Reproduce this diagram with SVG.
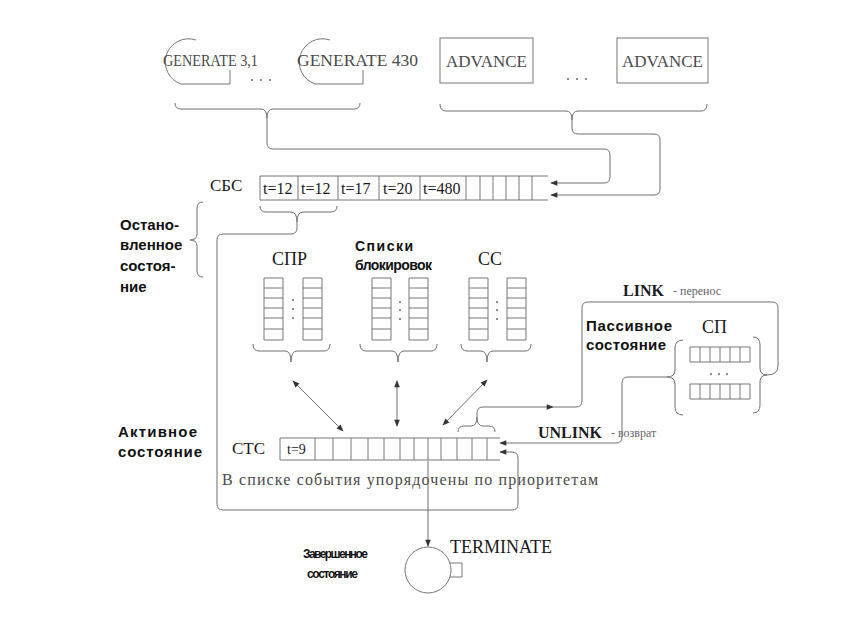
<svg xmlns="http://www.w3.org/2000/svg" width="849" height="619" viewBox="0 0 849 619">
<defs>
<style>
.ln{fill:none;stroke:#6e6e6e;stroke-width:1}
.bx{fill:none;stroke:#777;stroke-width:1}
.srf{font-family:"Liberation Serif","Times New Roman",serif;fill:#4a4a4a}
.dk{fill:#1a1a1a}
.bs{font-family:"Liberation Sans",Arial,sans-serif;font-weight:bold;fill:#111}
.sm{font-family:"Liberation Serif","Times New Roman",serif;font-size:12px;fill:#666}
.dot{fill:#666}
</style>
<marker id="ah" viewBox="0 0 10 10" refX="9" refY="5" markerWidth="9" markerHeight="7" markerUnits="userSpaceOnUse" orient="auto-start-reverse">
<path d="M0,1 L10,5 L0,9 Z" fill="#333"/>
</marker>
</defs>
<rect width="849" height="619" fill="#fff"/>

<g id="generate1">
<path class="bx" d="M196 40 A23 23 0 1 0 181 84 L230 84 L230 70"/>
<text class="srf" x="163" y="66" font-size="17" textLength="95" lengthAdjust="spacingAndGlyphs">GENERATE 3,1</text>
</g>
<g id="generate2">
<path class="bx" d="M330 40 A23 23 0 1 0 315 84 L363 84 L363 70"/>
<text class="srf" x="297" y="66" font-size="17" textLength="121" lengthAdjust="spacingAndGlyphs">GENERATE 430</text>
</g>
<g id="gen-dots"><circle class="dot" cx="252" cy="80" r="1"/><circle class="dot" cx="261" cy="80" r="1"/><circle class="dot" cx="270" cy="80" r="1"/></g>
<g id="advance1">
<rect class="bx" x="440" y="38" width="93" height="45"/>
<text class="srf" x="486.5" y="67" font-size="17" text-anchor="middle">ADVANCE</text>
</g>
<g id="advance2">
<rect class="bx" x="617" y="38" width="91" height="45"/>
<text class="srf" x="662.5" y="67" font-size="17" text-anchor="middle">ADVANCE</text>
</g>
<g id="adv-dots"><circle class="dot" cx="568" cy="79" r="1"/><circle class="dot" cx="577" cy="79" r="1"/><circle class="dot" cx="586" cy="79" r="1"/></g>

<g id="braces">
<path class="ln" d="M175 103 Q175 109 181 109 L261 109 Q267 109 267 118 Q267 109 273 109 L354 109 Q360 109 360 103"/>
<path class="ln" d="M440 104 Q440 111 446 111 L566 111 Q572 111 572 120 Q572 111 578 111 L701 111 Q707 111 707 104"/>
<path class="ln" d="M260 206 Q260 212 266 212 L291 212 Q297 212 297 222 Q297 212 303 212 L331 212 Q337 212 337 206"/>
<path class="ln" d="M203 202 Q197 202 197 208 L197 234 Q197 240 190 240 Q197 240 197 246 L197 271 Q197 277 203 277"/>
<path class="ln" d="M253 344 Q253 351 259 351 L285 351 Q291 351 291 362 Q291 351 297 351 L324 351 Q330 351 330 344"/>
<path class="ln" d="M360 344 Q360 351 366 351 L392 351 Q398 351 398 362 Q398 351 404 351 L431 351 Q437 351 437 344"/>
<path class="ln" d="M461 344 Q461 351 467 351 L481 351 Q487 351 487 362 Q487 351 493 351 L525 351 Q531 351 531 344"/>
<path class="ln" d="M458 432 Q458 426 464 426 L471 426 Q477 426 477 417 Q477 426 483 426 L489 426 Q495 426 495 432"/>
<path class="ln" d="M683 340 Q675 340 675 348 L675 370 Q675 377 667 377 Q675 377 675 384 L675 407 Q675 415 683 415"/>
<path class="ln" d="M753 337 Q760 337 760 345 L760 368 Q760 375 767 375 Q760 375 760 382 L760 405 Q760 413 753 413"/>
</g>

<g id="sbs">
<text class="srf dk" x="210" y="191" font-size="17">СБС</text>
<path class="bx" d="M548 176 L260 176 L260 200 L548 200 M298 176 V200 M338 176 V200 M379 176 V200 M420 176 V200 M466 176 V200 M480 176 V200 M493 176 V200 M506 176 V200 M519 176 V200 M532 176 V200"/>
<g class="srf dk" font-size="16">
<text x="263" y="194">t=12</text><text x="301" y="194">t=12</text><text x="341" y="194">t=17</text><text x="383" y="194">t=20</text><text x="423" y="194">t=480</text>
</g>
</g>

<g id="stopped-label" class="bs" font-size="15">
<text x="120" y="230">Остано-</text><text x="120" y="250">вленное</text><text x="120" y="271">состоя-</text><text x="120" y="292">ние</text>
</g>

<g id="spr">
<text class="srf dk" x="272" y="265" font-size="18">СПР</text>
<path class="bx" d="M264 278 h19 v62 h-19 Z M264 288 h19 M264 298 h19 M264 308 h19 M264 318 h19 M264 329 h19 M303 278 h19 v62 h-19 Z M303 288 h19 M303 298 h19 M303 308 h19 M303 318 h19 M303 329 h19"/>
<circle class="dot" cx="293" cy="300" r="1"/><circle class="dot" cx="293" cy="309" r="1"/><circle class="dot" cx="293" cy="318" r="1"/>
</g>
<g id="blocks">
<text class="bs" x="355" y="251" font-size="14" textLength="58">Списки</text>
<text class="bs" x="355" y="270" font-size="14" textLength="77">блокировок</text>
<path class="bx" d="M372 278 h19 v62 h-19 Z M372 288 h19 M372 298 h19 M372 308 h19 M372 318 h19 M372 329 h19 M409 278 h19 v62 h-19 Z M409 288 h19 M409 298 h19 M409 308 h19 M409 318 h19 M409 329 h19"/>
<circle class="dot" cx="400" cy="302" r="1"/><circle class="dot" cx="400" cy="310" r="1"/><circle class="dot" cx="400" cy="319" r="1"/>
</g>
<g id="cc">
<text class="srf dk" x="478" y="265" font-size="18">СС</text>
<path class="bx" d="M469 278 h19 v62 h-19 Z M469 288 h19 M469 298 h19 M469 308 h19 M469 318 h19 M469 329 h19 M507 278 h19 v62 h-19 Z M507 288 h19 M507 298 h19 M507 308 h19 M507 318 h19 M507 329 h19"/>
<circle class="dot" cx="497" cy="302" r="1"/><circle class="dot" cx="497" cy="310" r="1"/><circle class="dot" cx="497" cy="319" r="1"/>
</g>

<g id="sp">
<text class="bs" x="586" y="331" font-size="15" textLength="86">Пассивное</text>
<text class="bs" x="586" y="350" font-size="15" textLength="80">состояние</text>
<text class="srf dk" x="702" y="333" font-size="18">СП</text>
<path class="bx" d="M690 347 h60 v15 h-60 Z M700 347 v15 M710 347 v15 M720 347 v15 M730 347 v15 M740 347 v15 M690 384 h60 v15 h-60 Z M700 384 v15 M710 384 v15 M720 384 v15 M730 384 v15 M740 384 v15"/>
<circle class="dot" cx="711" cy="374" r="1"/><circle class="dot" cx="719" cy="374" r="1"/><circle class="dot" cx="727" cy="374" r="1"/>
</g>

<g id="link-label">
<text class="srf dk" x="623" y="296" font-size="16" font-weight="bold">LINK</text>
<text class="sm" x="673" y="295">- перенос</text>
</g>
<g id="unlink-label">
<text class="srf dk" x="538" y="438" font-size="16" font-weight="bold">UNLINK</text>
<text class="sm" x="611" y="437">- возврат</text>
</g>

<g id="active-label" class="bs" font-size="15">
<text x="118" y="437" textLength="79">Активное</text><text x="118" y="457" textLength="84">состояние</text>
</g>

<g id="stc">
<text class="srf dk" x="232" y="454" font-size="17">СТС</text>
<path class="bx" d="M500 438 L280 438 L280 460 L500 460 M315 438 V460 M333 438 V460 M351 438 V460 M368 438 V460 M384 438 V460 M400 438 V460 M414 438 V460 M428 438 V460 M441 438 V460 M457 438 V460 M472 438 V460 M487 438 V460"/>
<text class="srf dk" x="287" y="454" font-size="14">t=9</text>
<text class="srf" x="222" y="485" font-size="16" textLength="376">В списке события упорядочены по приоритетам</text>
</g>

<g id="terminate">
<circle class="bx" cx="428" cy="570" r="23"/>
<path class="bx" d="M450 563 H462 V577 H450"/>
<text class="srf dk" x="450" y="553" font-size="18">TERMINATE</text>
</g>
<g id="finished-label" class="bs" font-size="12">
<text x="303" y="558" textLength="65">Завершенное</text><text x="307" y="578" textLength="51">состояние</text>
</g>

<g id="connectors">
<path class="ln" marker-end="url(#ah)" d="M267 118 L267 143 Q267 149 273 149 L604 149 Q610 149 610 155 L610 177 Q610 183 604 183 L551 183"/>
<path class="ln" marker-end="url(#ah)" d="M572 120 L572 128 Q572 134 578 134 L654 134 Q660 134 660 140 L660 189 Q660 195 654 195 L551 195"/>
<path class="ln" marker-end="url(#ah)" d="M297 222 L297 228 Q297 234 291 234 L223 234 Q217 234 217 240 L217 504 Q217 510 223 510 L512 510 Q518 510 518 504 L518 458 Q518 452 512 452 L500 452"/>
<path class="ln" marker-end="url(#ah)" d="M667 377 L628 377 Q622 377 622 383 L622 437 Q622 443 616 443 L500 443"/>
<path class="ln" marker-end="url(#ah)" d="M477 417 L477 413 Q477 407 483 407 L553 407"/>
<path class="ln" d="M553 407 L576 407 Q582 407 582 401 L582 308 Q582 302 588 302 L772 302 Q778 302 778 308 L778 366 Q778 375 767 375"/>
<path class="ln" marker-start="url(#ah)" marker-end="url(#ah)" d="M293 381 L343 431"/>
<path class="ln" marker-start="url(#ah)" marker-end="url(#ah)" d="M397 381 L397 426"/>
<path class="ln" marker-start="url(#ah)" marker-end="url(#ah)" d="M487 380 L443 425"/>
<path class="ln" marker-end="url(#ah)" d="M428 461 L428 546"/>
</g>
</svg>
